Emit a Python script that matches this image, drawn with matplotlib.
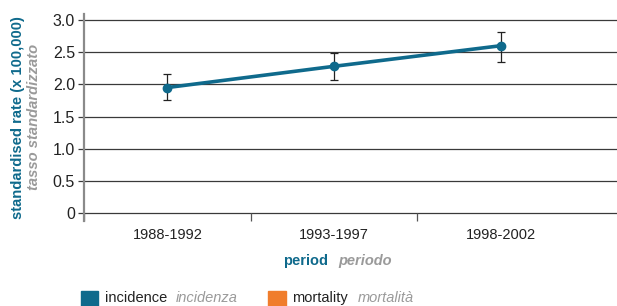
import numpy as np
import matplotlib.pyplot as plt
from matplotlib.patches import Rectangle

plt.rcParams['font.family'] = ['Liberation Sans', 'DejaVu Sans']

periods = ['1988-1992', '1993-1997', '1998-2002']
incidence = [1.95, 2.28, 2.60]
ci_low = [1.75, 2.07, 2.34]
ci_high = [2.16, 2.49, 2.82]
yticks = [0, 0.5, 1.0, 1.5, 2.0, 2.5, 3.0]
ytick_labels = ['0', '0.5', '1.0', '1.5', '2.0', '2.5', '3.0']

teal = '#0f6a8c'
orange = '#f07d2c'
grey = '#9a9a9a'

W, H = 617, 306
fig = plt.figure(figsize=(W / 100, H / 100), dpi=100)
ax = fig.add_axes([84 / W, 1 - 221 / H, 1 - 84 / W, 207 / H])

x = np.arange(len(periods))
inc = np.array(incidence)
yerr = [inc - np.array(ci_low), np.array(ci_high) - inc]

ax.errorbar(x, inc, yerr=yerr, fmt='none', ecolor='#222222',
            elinewidth=0.9, capsize=3, capthick=0.9, zorder=3)
ax.plot(x, inc, color=teal, lw=2.6, marker='o', ms=6, zorder=4)

ax.set_ylim(-0.124, 3.093)
ax.set_xlim(-0.5, 2.5 + 33 / 167)
ax.set_yticks(yticks)
ax.set_yticklabels(ytick_labels)
ax.set_xticks(x)
ax.set_xticklabels(periods)
ax.set_xticks([-0.5, 0.5, 1.5], minor=True)

for v in yticks:
    ax.axhline(v, color='#3a3a3a', lw=0.9, zorder=1)

for s in ['top', 'right', 'bottom']:
    ax.spines[s].set_visible(False)
ax.spines['left'].set_color('#8a8a8a')
ax.spines['left'].set_linewidth(1.6)

ax.tick_params(axis='y', length=4.5, width=0.9, color='#3a3a3a',
               labelsize=11.5, labelcolor='#222222', pad=2)
ax.tick_params(axis='x', which='major', length=0, labelsize=10.5,
               labelcolor='#222222', pad=5)
ax.tick_params(axis='x', which='minor', length=6, width=0.9,
               color='#555555', direction='in')

# y label (two languages)
fig.text(18 / W, 1 - 118 / H, 'standardised rate (x 100,000)', rotation=90,
         color=teal, fontweight='bold', fontsize=10.6, ha='center', va='center')
fig.text(34 / W, 1 - 117 / H, 'tasso standardizzato', rotation=90,
         color=grey, fontstyle='italic', fontweight='bold', fontsize=10.6,
         ha='center', va='center')

# x label (two languages)
fig.text(328 / W, 1 - 261 / H, 'period', color=teal, fontweight='bold',
         fontsize=10.5, ha='right', va='center')
fig.text(338 / W, 1 - 261 / H, 'periodo', color=grey, fontweight='bold',
         fontstyle='italic', fontsize=10.5, ha='left', va='center')

# legend
fig.add_artist(Rectangle((81 / W, 0), 17 / W, 15 / H, color=teal,
                         transform=fig.transFigure))
fig.text(105 / W, 1 - 298 / H, 'incidence', color='#222222', fontsize=10.5,
         ha='left', va='center')
fig.text(176 / W, 1 - 298 / H, 'incidenza', color=grey, fontstyle='italic',
         fontsize=10.5, ha='left', va='center')
fig.add_artist(Rectangle((268 / W, 0), 18 / W, 15 / H, color=orange,
                         transform=fig.transFigure))
fig.text(292 / W, 1 - 298 / H, 'mortality', color='#222222', fontsize=10.5,
         ha='left', va='center')
fig.text(358 / W, 1 - 298 / H, 'mortalità', color=grey, fontstyle='italic',
         fontsize=10.5, ha='left', va='center')

fig.savefig('out.png', dpi=100)
